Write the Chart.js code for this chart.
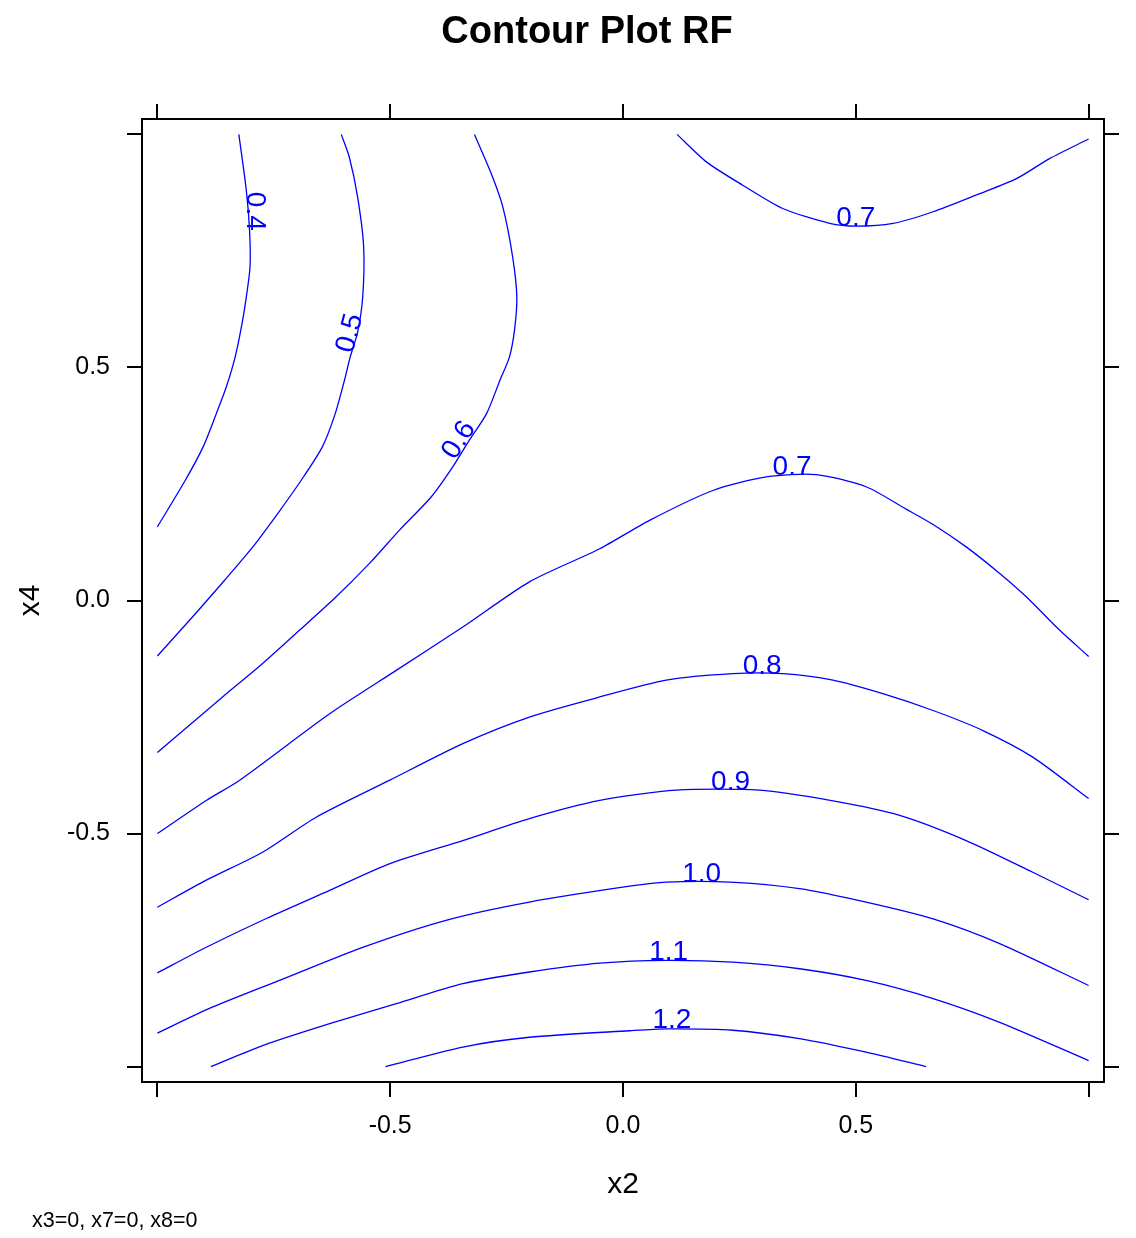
<!DOCTYPE html>
<html lang="en">
<head>
    <meta charset="UTF-8">
    <title>Contour Plot RF</title>
    <script src="https://cdn.jsdelivr.net/npm/chart.js@4.4.1/dist/chart.umd.js"></script>
    <style>
        body { margin: 0; background: #fff; }
        canvas { display: block; }
    </style>
</head>
<body>
    <canvas id="contour" width="1136" height="1238"></canvas>

    <script>
        // axis range and ticks (x2 horizontal, x4 vertical)
        const axisMin = -1.033;
        const axisMax = 1.033;
        const tickValues = [-1, -0.5, 0, 0.5, 1];
        const labelledTicks = [-0.5, 0, 0.5];

        // contour lines, [x2, x4] pairs
        const contour04 = [[-0.825, 1.0], [-0.809, 0.88], [-0.802, 0.794], [-0.801, 0.716], [-0.809, 0.651],
            [-0.818, 0.595], [-0.833, 0.522], [-0.852, 0.458], [-0.873, 0.402], [-0.902, 0.329],
            [-0.940, 0.258], [-1.0, 0.158]];
        const contour05 = [[-0.605, 1.0], [-0.588, 0.952], [-0.570, 0.866], [-0.557, 0.759], [-0.559, 0.651],
            [-0.570, 0.575], [-0.586, 0.522], [-0.598, 0.473], [-0.618, 0.401], [-0.646, 0.329], [-0.691, 0.258],
            [-0.742, 0.186], [-0.795, 0.115], [-0.856, 0.043], [-0.918, -0.028], [-1.0, -0.119]];
        const contour06 = [[-0.319, 1.0], [-0.283, 0.916], [-0.258, 0.844], [-0.237, 0.737], [-0.228, 0.651],
            [-0.233, 0.580], [-0.244, 0.522], [-0.264, 0.473], [-0.293, 0.401], [-0.330, 0.344], [-0.366, 0.286],
            [-0.412, 0.222], [-0.480, 0.151], [-0.545, 0.079], [-0.616, 0.008], [-0.695, -0.064],
            [-0.774, -0.135], [-0.860, -0.207], [-1.0, -0.326]];
        const contour07top = [[0.116, 1.0], [0.179, 0.941], [0.257, 0.891], [0.343, 0.841], [0.444, 0.809],
            [0.501, 0.803], [0.580, 0.809], [0.666, 0.834], [0.759, 0.870], [0.845, 0.905],
            [0.916, 0.948], [1.0, 0.990]];
        const contour07 = [[-1.0, -0.500], [-0.895, -0.429], [-0.824, -0.386], [-0.630, -0.243], [-0.487, -0.150],
            [-0.344, -0.057], [-0.201, 0.040], [-0.050, 0.111], [0.057, 0.172], [0.193, 0.236],
            [0.308, 0.265], [0.415, 0.270], [0.522, 0.244], [0.608, 0.196], [0.666, 0.163],
            [0.737, 0.115], [0.809, 0.058], [0.866, 0.008], [0.938, -0.064], [1.0, -0.120]];
        const contour08 = [[-1.0, -0.658], [-0.895, -0.600], [-0.774, -0.540], [-0.659, -0.465], [-0.502, -0.386],
            [-0.344, -0.307], [-0.201, -0.250], [-0.050, -0.207], [0.093, -0.171], [0.236, -0.157],
            [0.343, -0.157], [0.451, -0.171], [0.558, -0.200], [0.666, -0.236], [0.773, -0.279],
            [0.880, -0.336], [1.0, -0.425]];
        const contour09 = [[-1.0, -0.799], [-0.895, -0.744], [-0.774, -0.686], [-0.630, -0.622], [-0.502, -0.565],
            [-0.344, -0.515], [-0.201, -0.468], [-0.050, -0.429], [0.114, -0.407], [0.293, -0.407],
            [0.451, -0.430], [0.594, -0.461], [0.737, -0.515], [0.880, -0.583], [1.0, -0.642]];
        const contour10 = [[-1.0, -0.928], [-0.881, -0.872], [-0.738, -0.815], [-0.559, -0.744], [-0.380, -0.686],
            [-0.201, -0.647], [0.014, -0.613], [0.093, -0.604], [0.229, -0.604], [0.379, -0.618],
            [0.522, -0.647], [0.666, -0.683], [0.809, -0.736], [1.0, -0.826]];
        const contour11 = [[-0.885, -1.0], [-0.774, -0.955], [-0.630, -0.908], [-0.487, -0.865], [-0.344, -0.822],
            [-0.201, -0.797], [-0.050, -0.778], [0.093, -0.772], [0.236, -0.776], [0.379, -0.790],
            [0.522, -0.815], [0.666, -0.854], [0.809, -0.905], [1.0, -0.987]];
        const contour12 = [[-0.510, -1.0], [-0.344, -0.958], [-0.201, -0.937], [0.014, -0.923], [0.093, -0.919],
            [0.236, -0.922], [0.379, -0.940], [0.522, -0.969], [0.651, -1.0]];

        // contour labels: text, anchor on the line, text angle in degrees
        const labelText = ['0.4', '0.5', '0.6', '0.7', '0.7', '0.8', '0.9', '1.0', '1.1', '1.2'];
        const labelX = [-0.807, -0.570, -0.338, 0.500, 0.363, 0.299, 0.231, 0.169, 0.098, 0.105];
        const labelY = [0.835, 0.569, 0.335, 0.803, 0.270, -0.157, -0.407, -0.604, -0.772, -0.918];
        const labelAngle = [90, -75, -58, 0, 0, 0, 0, 0, 0, 0];

        const contours = [contour04, contour05, contour06, contour07top, contour07,
            contour08, contour09, contour10, contour11, contour12];

        const BLUE = '#0000ff';
        const FONT = '"Liberation Sans", Arial, sans-serif';

        const datasets = contours.map(function (c) {
            return {
                data: c.map(p => ({ x: p[0], y: p[1] })),
                showLine: true,
                borderColor: BLUE,
                borderWidth: 1.3,
                pointRadius: 0,
                tension: 0.25,
                fill: false
            };
        });

        function setTicks(scale) {
            scale.ticks = tickValues.map(v => ({ value: v }));
        }

        function tickLabel(v) {
            return labelledTicks.includes(v) ? v.toFixed(1) : '';
        }

        function axis(axisName, position, showLabels, size) {
            return {
                type: 'linear',
                axis: axisName,
                position: position,
                min: axisMin,
                max: axisMax,
                afterBuildTicks: setTicks,
                afterFit: function (s) {
                    if (axisName === 'x') s.height = size; else s.width = size;
                },
                grid: {
                    drawOnChartArea: false,
                    drawTicks: true,
                    tickLength: 15,
                    color: '#000',
                    lineWidth: 2
                },
                border: { display: true, color: '#000', width: 2 },
                ticks: {
                    display: showLabels,
                    color: '#000',
                    padding: axisName === 'x' ? 14 : 17,
                    maxRotation: 0,
                    autoSkip: false,
                    font: { family: FONT, size: 25 },
                    callback: tickLabel
                }
            };
        }

        const textPlugin = {
            id: 'contourText',
            afterDraw(chart) {
                const ctx = chart.ctx;
                const sx = chart.scales.x;
                const sy = chart.scales.y;
                ctx.save();

                // contour labels
                ctx.fillStyle = BLUE;
                ctx.font = '28px ' + FONT;
                ctx.textAlign = 'center';
                ctx.textBaseline = 'alphabetic';
                for (let i = 0; i < labelText.length; i++) {
                    ctx.save();
                    ctx.translate(sx.getPixelForValue(labelX[i]), sy.getPixelForValue(labelY[i]));
                    ctx.rotate(labelAngle[i] * Math.PI / 180);
                    ctx.fillText(labelText[i], 0, 0);
                    ctx.restore();
                }

                // title, axis titles, note
                ctx.fillStyle = '#000';
                ctx.font = 'bold 38px ' + FONT;
                ctx.fillText('Contour Plot RF', 587, 43);

                ctx.font = '30px ' + FONT;
                ctx.fillText('x2', (chart.chartArea.left + chart.chartArea.right) / 2, 1193);

                ctx.save();
                ctx.translate(39, (chart.chartArea.top + chart.chartArea.bottom) / 2);
                ctx.rotate(-Math.PI / 2);
                ctx.fillText('x4', 0, 0);
                ctx.restore();

                ctx.textAlign = 'left';
                ctx.font = '21.5px ' + FONT;
                ctx.fillText('x3=0, x7=0, x8=0', 32, 1227);

                ctx.restore();
            }
        };

        new Chart(document.getElementById('contour'), {
            type: 'scatter',
            data: { datasets: datasets },
            options: {
                responsive: false,
                animation: false,
                layout: { padding: 0 },
                plugins: {
                    legend: { display: false },
                    tooltip: { enabled: false },
                    title: { display: false }
                },
                scales: {
                    x: axis('x', 'bottom', true, 156),
                    xTop: axis('x', 'top', false, 119),
                    y: axis('y', 'left', true, 142),
                    yRight: axis('y', 'right', false, 32)
                }
            },
            plugins: [textPlugin]
        });
    </script>
</body>
</html>
